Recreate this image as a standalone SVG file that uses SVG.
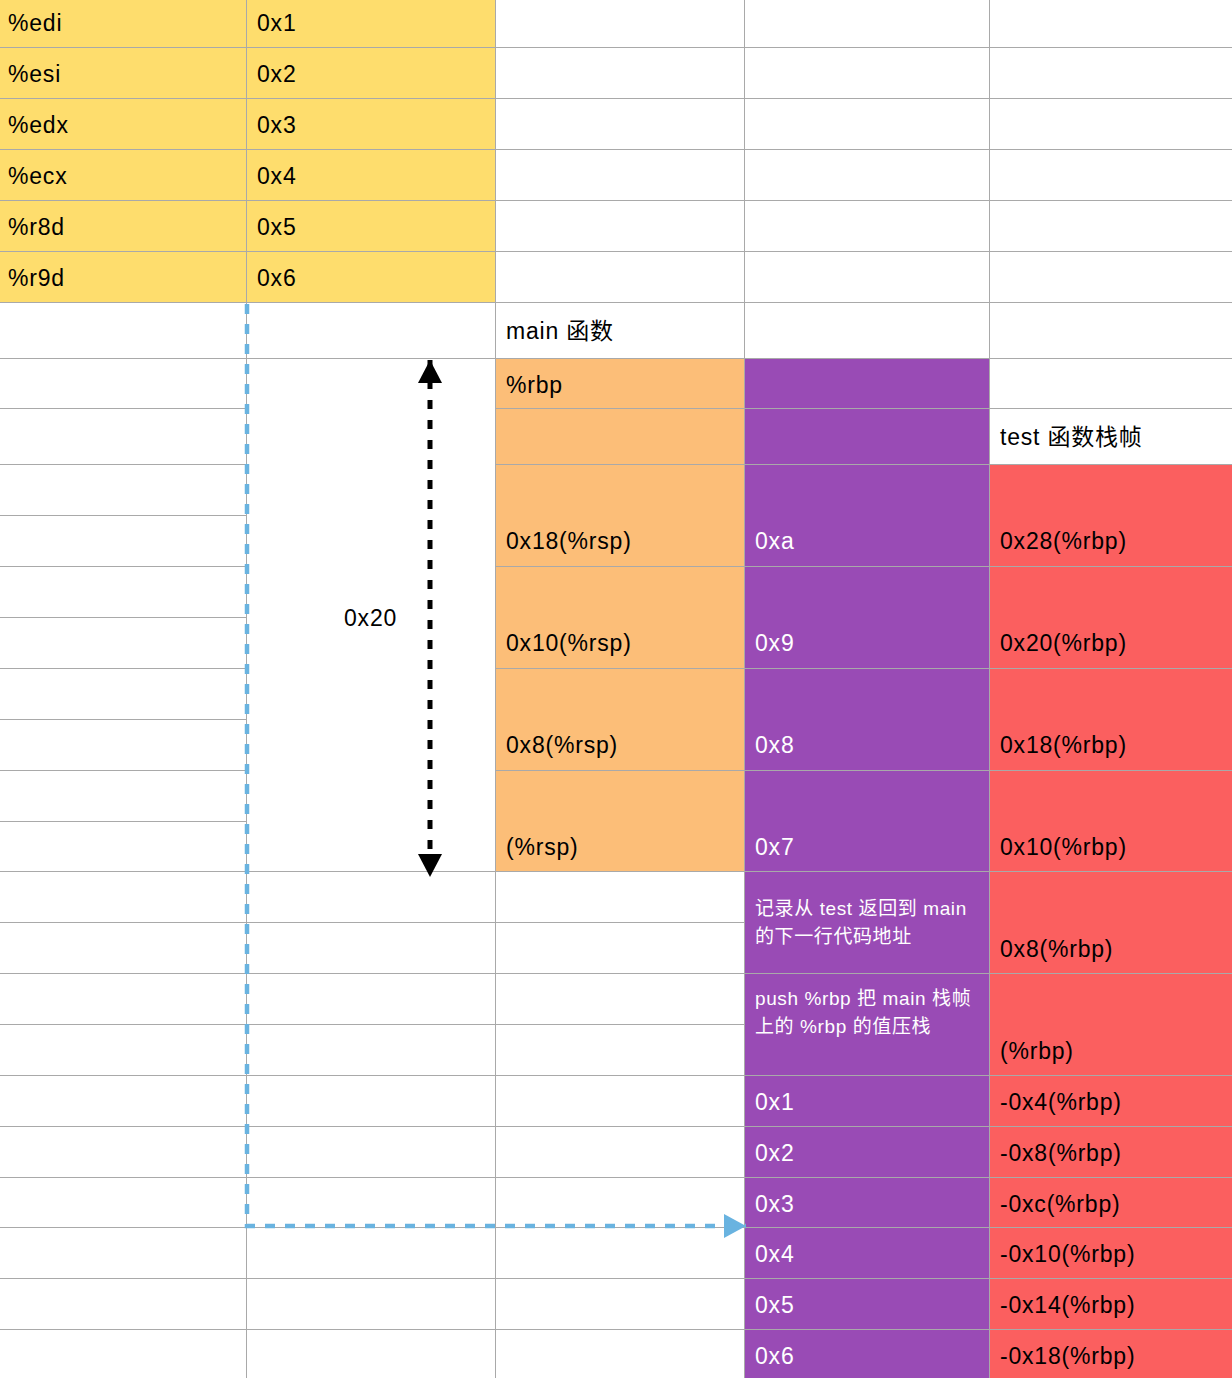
<svg xmlns="http://www.w3.org/2000/svg" width="1232" height="1378" viewBox="0 0 1232 1378">
<style>
text{font-family:"Liberation Sans","Noto Sans CJK SC",Arial,sans-serif;font-size:23px;letter-spacing:0.8px;fill:#000}
.w{fill:#fff;font-size:19px;letter-spacing:0.6px}
.g{stroke:#a9a9a9;stroke-width:1;fill:none}
</style>
<defs>
<marker id="ab" markerUnits="userSpaceOnUse" markerWidth="26" markerHeight="26" refX="23" refY="12" orient="auto-start-reverse" viewBox="0 0 26 26"><path d="M0,0 L23,12 L0,24 Z" fill="#000"/></marker>
<marker id="ablue" markerUnits="userSpaceOnUse" markerWidth="26" markerHeight="26" refX="22" refY="12" orient="auto" viewBox="0 0 26 26"><path d="M0,0 L22,12 L0,24 Z" fill="#69b3e0"/></marker>
</defs>
<rect width="1232" height="1378" fill="#fff"/>
<g id="fills">
<rect x="0" y="0" width="495" height="302" fill="#fedd6d"/>
<rect x="495" y="358" width="249" height="513" fill="#fcbe78"/>
<rect x="744" y="358" width="245" height="1020" fill="#994bb5"/>
<rect x="989" y="464" width="243" height="914" fill="#fb5f5f"/>
</g>
<g id="grid" class="g">
<path d="M246.5,0V1378M495.5,0V1378M744.5,0V1378M989.5,0V1378"/>
<path d="M0,47.5H1232M0,98.5H1232M0,149.5H1232M0,200.5H1232M0,251.5H1232M0,302.5H1232M0,358.5H1232"/>
<path d="M0,408.5H246M495,408.5H1232M0,464.5H246M495,464.5H1232M0,515.5H246M0,566.5H246M495,566.5H1232M0,617.5H246M0,668.5H246M495,668.5H1232M0,719.5H246M0,770.5H246M495,770.5H1232M0,821.5H246"/>
<path d="M0,871.5H1232M0,922.5H744M0,973.5H1232M0,1024.5H744M0,1075.5H1232M0,1126.5H1232M0,1177.5H1232M0,1227.5H1232M0,1278.5H1232M0,1329.5H1232"/>
</g>
<g id="registers">
<text x="8" y="31">%edi</text><text x="257" y="31">0x1</text>
<text x="8" y="82">%esi</text><text x="257" y="82">0x2</text>
<text x="8" y="133">%edx</text><text x="257" y="133">0x3</text>
<text x="8" y="184">%ecx</text><text x="257" y="184">0x4</text>
<text x="8" y="235">%r8d</text><text x="257" y="235">0x5</text>
<text x="8" y="286">%r9d</text><text x="257" y="286">0x6</text>
</g>
<g id="main-frame">
<text x="506" y="339">main 函数</text>
<text x="506" y="393">%rbp</text>
<text x="506" y="549">0x18(%rsp)</text>
<text x="506" y="651">0x10(%rsp)</text>
<text x="506" y="753">0x8(%rsp)</text>
<text x="506" y="855">(%rsp)</text>
</g>
<g id="size-label"><text x="344" y="626">0x20</text></g>
<g id="values">
<text x="755" y="549" fill="#fff" style="fill:#fff">0xa</text>
<text x="755" y="651" style="fill:#fff">0x9</text>
<text x="755" y="753" style="fill:#fff">0x8</text>
<text x="755" y="855" style="fill:#fff">0x7</text>
<text class="w" x="755" y="915">记录从 test 返回到 main</text>
<text class="w" x="755" y="943">的下一行代码地址</text>
<text class="w" x="755" y="1005">push %rbp 把 main 栈帧</text>
<text class="w" x="755" y="1033">上的 %rbp 的值压栈</text>
<text x="755" y="1110" style="fill:#fff">0x1</text>
<text x="755" y="1161" style="fill:#fff">0x2</text>
<text x="755" y="1212" style="fill:#fff">0x3</text>
<text x="755" y="1262" style="fill:#fff">0x4</text>
<text x="755" y="1313" style="fill:#fff">0x5</text>
<text x="755" y="1364" style="fill:#fff">0x6</text>
</g>
<g id="test-frame">
<text x="1000" y="445">test 函数栈帧</text>
<text x="1000" y="549">0x28(%rbp)</text>
<text x="1000" y="651">0x20(%rbp)</text>
<text x="1000" y="753">0x18(%rbp)</text>
<text x="1000" y="855">0x10(%rbp)</text>
<text x="1000" y="957">0x8(%rbp)</text>
<text x="1000" y="1059">(%rbp)</text>
<text x="1000" y="1110">-0x4(%rbp)</text>
<text x="1000" y="1161">-0x8(%rbp)</text>
<text x="1000" y="1212">-0xc(%rbp)</text>
<text x="1000" y="1262">-0x10(%rbp)</text>
<text x="1000" y="1313">-0x14(%rbp)</text>
<text x="1000" y="1364">-0x18(%rbp)</text>
</g>
<g id="connectors" fill="none">
<path d="M430,360V877" stroke="#000" stroke-width="5" stroke-dasharray="9 11" marker-start="url(#ab)" marker-end="url(#ab)"/>
<path d="M247,304V1226H746" stroke="#69b3e0" stroke-width="4.5" stroke-dasharray="10 10" marker-end="url(#ablue)"/>
</g>
</svg>
